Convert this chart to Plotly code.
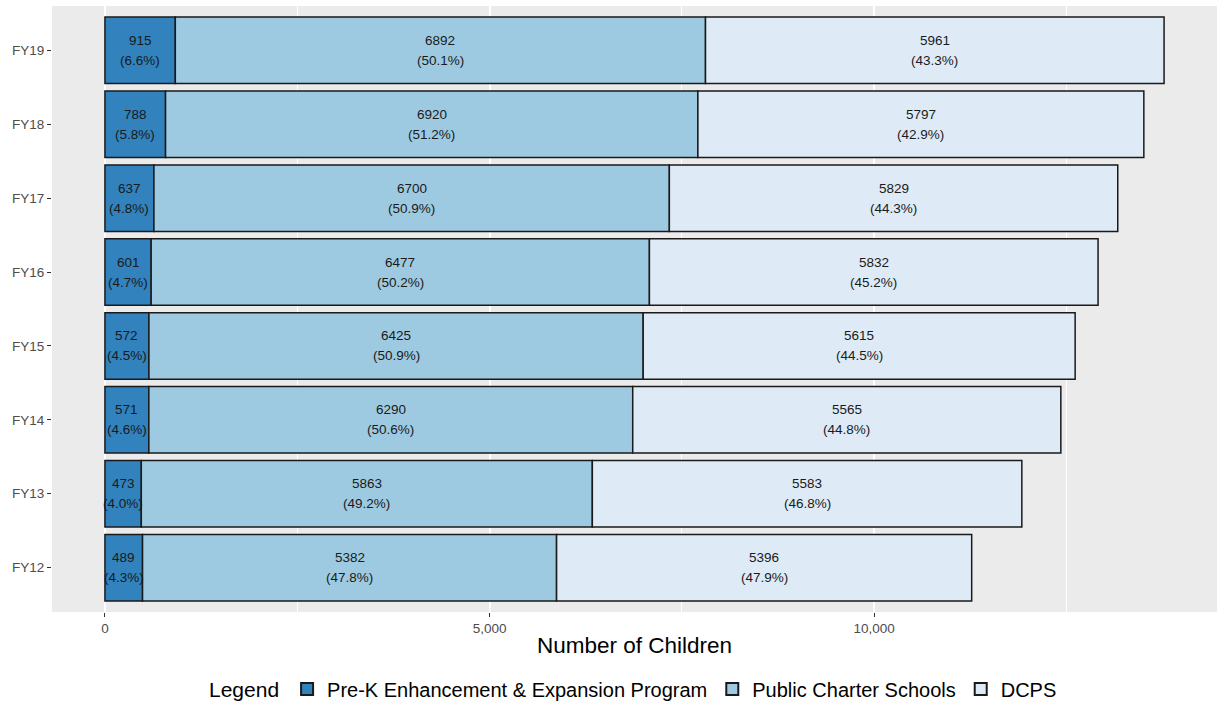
import plotly.graph_objects as go

# Enrollment by fiscal year and program
years = ["FY12", "FY13", "FY14", "FY15", "FY16", "FY17", "FY18", "FY19"]
pre_k = [489, 473, 571, 572, 601, 637, 788, 915]
charter = [5382, 5863, 6290, 6425, 6477, 6700, 6920, 6892]
dcps = [5396, 5583, 5565, 5615, 5832, 5829, 5797, 5961]

pre_k_pct = [4.3, 4.0, 4.6, 4.5, 4.7, 4.8, 5.8, 6.6]
charter_pct = [47.8, 49.2, 50.6, 50.9, 50.2, 50.9, 51.2, 50.1]
dcps_pct = [47.9, 46.8, 44.8, 44.5, 45.2, 44.3, 42.9, 43.3]

series = [
    ("Pre-K Enhancement & Expansion Program", pre_k, pre_k_pct, "#3182BD"),
    ("Public Charter Schools", charter, charter_pct, "#9ECAE1"),
    ("DCPS", dcps, dcps_pct, "#DEEBF7"),
]

FONT = "Liberation Sans, Arial, sans-serif"
LABEL_FONT = dict(family=FONT, size=13.5, color="#1a1a1a")

fig = go.Figure()
base = [0] * len(years)
for name, vals, pcts, color in series:
    fig.add_trace(go.Bar(
        y=years, x=vals, base=base, orientation="h", name=name,
        width=0.9,
        marker=dict(color=color, line=dict(color="#1a1a1a", width=1.5)),
        hoverinfo="skip",
    ))
    # count on the upper line, share on the lower line, centred in the segment
    for i, (v, p) in enumerate(zip(vals, pcts)):
        mid = base[i] + v / 2
        fig.add_annotation(x=mid, y=years[i], text=str(v), showarrow=False,
                           yshift=10, font=LABEL_FONT)
        fig.add_annotation(x=mid, y=years[i], text=f"({p:.1f}%)", showarrow=False,
                           yshift=-10, font=LABEL_FONT)
    base = [b + v for b, v in zip(base, vals)]

fig.update_layout(
    width=1217, height=702,
    margin=dict(l=52, r=0, t=6, b=90),
    paper_bgcolor="white",
    plot_bgcolor="#EBEBEB",
    barmode="overlay",
    font=dict(family=FONT, color="#000000"),
    legend=dict(
        orientation="h", x=0.5, xanchor="center", xref="paper",
        y=(702 - 689) / 702, yanchor="middle", yref="container",
        title=dict(text="Legend", font=dict(size=21, family=FONT)),
        font=dict(size=20, family=FONT),
        traceorder="normal",
        itemsizing="constant",
    ),
    xaxis=dict(
        range=[-688, 14456],
        tickvals=[0, 5000, 10000],
        ticktext=["0", "5,000", "10,000"],
        ticks="outside", ticklen=4, tickcolor="#333333", tickwidth=1,
        tickfont=dict(size=13.5, color="#4D4D4D", family=FONT),
        showgrid=True, gridcolor="white", gridwidth=1.5,
        minor=dict(tickvals=[2500, 7500, 12500], showgrid=True,
                   gridcolor="white", gridwidth=0.75, ticks=""),
        zeroline=False, showline=False,
        title=dict(text="Number of Children", font=dict(size=22.5, family=FONT),
                   standoff=2),
    ),
    yaxis=dict(
        type="category", categoryorder="array", categoryarray=years,
        range=[-0.6, 7.6],
        ticks="outside", ticklen=4, tickcolor="#333333", tickwidth=1,
        tickfont=dict(size=13.5, color="#4D4D4D", family=FONT),
        showgrid=False, zeroline=False, showline=False,
    ),
)

fig.write_html("out.html")
